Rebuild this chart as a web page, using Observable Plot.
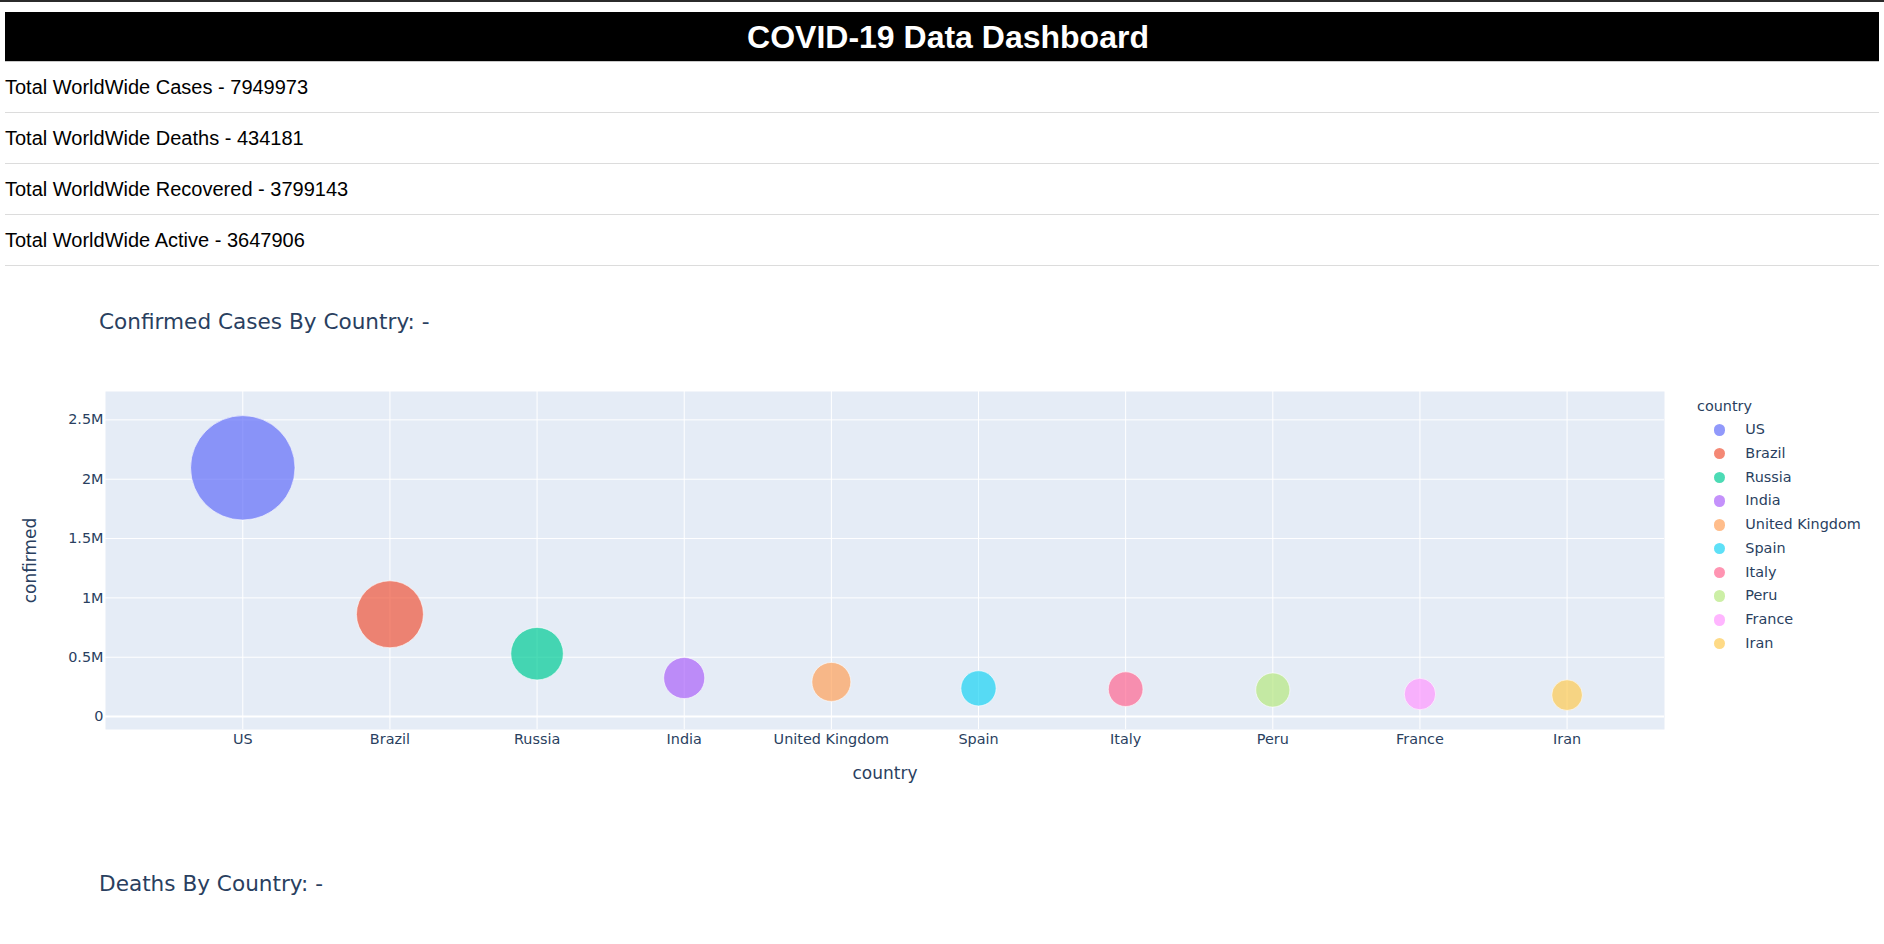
<!DOCTYPE html>
<html>
<head>
<meta charset="utf-8">
<script src="https://cdn.jsdelivr.net/npm/d3@7"></script>
<script src="https://cdn.jsdelivr.net/npm/@observablehq/plot@0.6"></script>
<style>
html,body{margin:0;padding:0;background:#fff;}
body{width:1884px;height:944px;position:relative;overflow:hidden;font-family:"Liberation Sans",Arial,sans-serif;}
#topline{position:absolute;left:0;top:0;width:1884px;height:2px;background:#2b2b2b;}
#header{position:absolute;left:5px;top:12px;width:1862px;padding-left:12px;height:49px;border-bottom:1px solid #c8c8c8;background:#000;color:#fff;font-weight:bold;font-size:32px;line-height:50px;text-align:center;}
.row{position:absolute;left:5px;width:1874px;height:50px;line-height:50px;border-bottom:1px solid #dcdcdc;font-size:20px;color:#000;white-space:nowrap;}
.ptitle{position:absolute;left:99px;font-family:"DejaVu Sans",sans-serif;font-size:21.6px;line-height:21px;color:#2a3f5f;white-space:nowrap;}
#chart{position:absolute;left:0;top:280px;}
#legend{position:absolute;left:1697px;top:396px;font-family:"DejaVu Sans",sans-serif;font-size:14.4px;color:#2a3f5f;}
#legend .ltitle{height:22px;line-height:20px;white-space:nowrap;}
#legend .item{position:relative;height:23.76px;line-height:23.76px;white-space:nowrap;}
#legend .mk{position:absolute;left:16.6px;top:6.2px;width:11.4px;height:11.4px;border-radius:50%;}
#legend .lb{position:absolute;left:48.3px;top:0;}
</style>
</head>
<body>
<div id="topline"></div>
<div id="header"></div>
<div id="rows"></div>
<div id="titles"></div>
<div id="chart"></div>
<div id="legend"></div>
<script>
const pageTitle = "COVID-19 Data Dashboard";
const summaryLabels = ["Total WorldWide Cases", "Total WorldWide Deaths", "Total WorldWide Recovered", "Total WorldWide Active"];
const summaryValues = [7949973, 434181, 3799143, 3647906];
const chartTitles = ["Confirmed Cases By Country: -", "Deaths By Country: -"];

const countries = ["US", "Brazil", "Russia", "India", "United Kingdom", "Spain", "Italy", "Peru", "France", "Iran"];
const confirmed = [2096000, 862000, 530000, 325000, 292000, 238000, 231000, 224000, 190000, 181000];
const colors = ["#636efa", "#EF553B", "#00cc96", "#ab63fa", "#FFA15A", "#19d3f3", "#FF6692", "#B6E880", "#FF97FF", "#FECB52"];
const yTicks = [0, 500000, 1000000, 1500000, 2000000, 2500000];
const yTickLabels = ["0", "0.5M", "1M", "1.5M", "2M", "2.5M"];
const xLabel = "country";
const yLabel = "confirmed";

document.getElementById("header").textContent = pageTitle;

const rows = document.getElementById("rows");
summaryLabels.forEach((l, i) => {
  const d = document.createElement("div");
  d.className = "row";
  d.style.top = (62 + 51 * i) + "px";
  d.textContent = l + " - " + summaryValues[i];
  rows.appendChild(d);
});

const titles = document.getElementById("titles");
[310.5, 873].forEach((t, i) => {
  const d = document.createElement("div");
  d.className = "ptitle";
  d.style.top = t + "px";
  d.textContent = chartTitles[i];
  titles.appendChild(d);
});

const data = countries.map((c, i) => ({country: c, index: i, confirmed: confirmed[i]}));

const chart = Plot.plot({
  width: 1884,
  height: 540,
  marginLeft: 105,
  marginRight: 220,
  marginTop: 111,
  marginBottom: 91,
  style: {fontFamily: "DejaVu Sans, sans-serif", fontSize: "14.4px", color: "#2a3f5f", background: "transparent", overflow: "visible"},
  x: {type: "linear", domain: [-0.933, 9.662]},
  y: {domain: [-108800, 2739000]},
  r: {domain: [0, d3.max(confirmed)], range: [0, 52.2]},
  color: {domain: countries, range: colors},
  marks: [
    Plot.frame({fill: "#E5ECF6", stroke: null}),
    Plot.ruleX(data, {x: "index", stroke: "white", strokeWidth: 1}),
    Plot.ruleY(yTicks.slice(1), {stroke: "white", strokeWidth: 1}),
    Plot.ruleY([0], {stroke: "white", strokeWidth: 2}),
    Plot.dot(data, {x: "index", y: "confirmed", r: "confirmed", fill: "country", fillOpacity: 0.7, stroke: "white", strokeWidth: 0.6}),
    Plot.axisX(data.map(d => d.index), {tickSize: 0, tickPadding: 4.5, tickFormat: i => countries[i], label: null}),
    Plot.axisY(yTicks, {tickSize: 0, tickPadding: 2, tickFormat: d => yTickLabels[yTicks.indexOf(d)], label: null}),
    Plot.text([xLabel], {frameAnchor: "bottom", dy: 49.5, fontSize: 17, fill: "#2a3f5f"}),
    Plot.text([yLabel], {frameAnchor: "left", textAnchor: "middle", dx: -74.7, rotate: -90, fontSize: 17, fill: "#2a3f5f"})
  ]
});
document.getElementById("chart").appendChild(chart);

const legend = document.getElementById("legend");
const lt = document.createElement("div");
lt.className = "ltitle";
lt.textContent = xLabel;
legend.appendChild(lt);
countries.forEach((c, i) => {
  const it = document.createElement("div");
  it.className = "item";
  const mk = document.createElement("span");
  mk.className = "mk";
  mk.style.background = colors[i];
  mk.style.opacity = 0.7;
  const lb = document.createElement("span");
  lb.className = "lb";
  lb.textContent = c;
  it.appendChild(mk);
  it.appendChild(lb);
  legend.appendChild(it);
});
</script>
</body>
</html>
